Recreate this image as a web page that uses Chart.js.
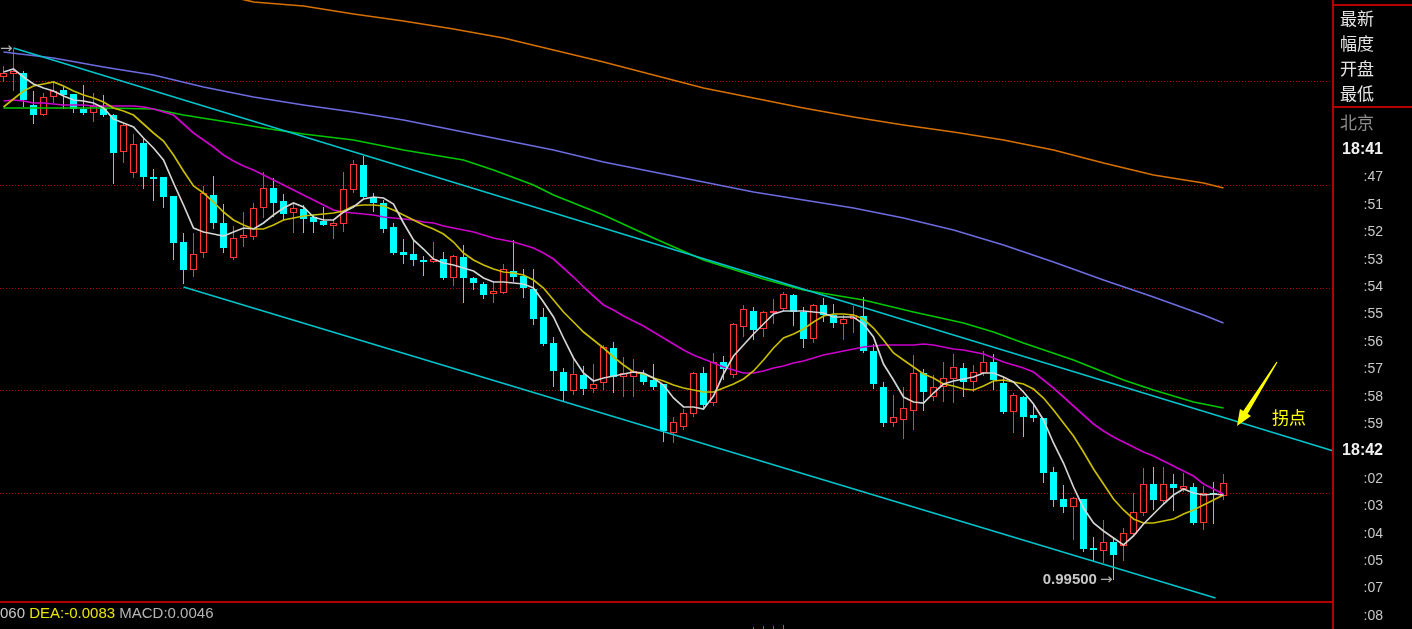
<!DOCTYPE html>
<html><head><meta charset="utf-8">
<script src="https://cdn.jsdelivr.net/npm/chart.js@4.4.0/dist/chart.umd.min.js"></script>
<style>
html,body{margin:0;padding:0;background:#000;}
#wrap{position:relative;width:1412px;height:629px;overflow:hidden;background:#000;font-family:"Liberation Sans",Arial,sans-serif;}
canvas{position:absolute;left:0;}
#main{top:0;}
#macd{top:604px;}
.t{position:absolute;white-space:nowrap;line-height:1;}
.cjk{font-family:"Noto Sans CJK SC",sans-serif;font-size:17px;}
.ln{position:absolute;background:#b40000;}
.num{font-weight:bold;font-size:15px;color:#c8c8c8;}
.arr{font-family:"DejaVu Sans",sans-serif;font-size:15px;color:#b0b0b0;margin-left:3px;}
</style></head>
<body><div id="wrap">
<canvas id="main" width="1334" height="603"></canvas>
<canvas id="macd" width="1334" height="25"></canvas>
<div class="ln" style="left:0;top:601px;width:1334px;height:2px;"></div>
<div class="ln" style="left:1332px;top:0;width:2px;height:629px;"></div>
<div class="ln" style="left:1334px;top:4px;width:78px;height:2px;"></div>
<div class="ln" style="left:1334px;top:106px;width:78px;height:2px;"></div>
<div id="panel"></div>
<div id="lowLab" class="t"><span class="num"></span><span class="arr">→</span></div>
<div id="highLab" class="t"><span class="num"></span><span class="arr">→</span></div>
<div class="t cjk" style="left:1272px;top:408px;color:#ffff00;">拐点</div>
<div class="t" style="left:0;top:605px;font-size:15px;"><span style="color:#c8c8c8">060 </span><span style="color:#e6e600">DEA:-0.0083 </span><span style="color:#b4b4b4">MACD:0.0046</span></div>
</div>
<script>
// ---- candle data (price) ----
const open = [1.00506,1.00512,1.00514,1.00450,1.00430,1.00466,1.00480,1.00472,1.00442,1.00434,
1.00444,1.00430,1.00356,1.00314,1.00374,1.00306,1.00306,1.00268,1.00176,1.00120,
1.00154,1.00270,1.00214,1.00144,1.00184,1.00186,1.00244,1.00284,1.00258,1.00234,
1.00242,1.00226,1.00218,1.00208,1.00212,1.00280,1.00330,1.00266,1.00254,1.00206,
1.00156,1.00152,1.00140,1.00136,1.00142,1.00104,1.00146,1.00104,1.00092,1.00072,
1.00074,1.00118,1.00108,1.00082,1.00026,0.99974,0.99916,0.99878,0.99910,0.99882,
0.99894,0.99964,0.99906,0.99906,0.99912,0.99900,0.99892,0.99794,0.99806,0.99832,
0.99914,0.99854,0.99936,0.99910,1.00006,1.00038,1.00002,1.00034,1.00042,1.00070,
1.00036,0.99982,1.00050,1.00030,1.00012,1.00022,1.00028,0.99958,0.99886,0.99814,
0.99820,0.99838,0.99914,0.99866,0.99886,0.99902,0.99924,0.99896,0.99914,0.99936,
0.99894,0.99836,0.99866,0.99830,0.99824,0.99716,0.99662,0.99646,0.99662,0.99564,
0.99558,0.99576,0.99568,0.99592,0.99634,0.99692,0.99658,0.99692,0.99682,0.99686,
0.99614,0.99674,0.99668];
const close = [1.00514,1.00518,1.00460,1.00430,1.00466,1.00478,1.00470,1.00442,1.00434,1.00448,
1.00430,1.00354,1.00410,1.00372,1.00306,1.00302,1.00266,1.00174,1.00120,1.00152,
1.00274,1.00214,1.00164,1.00184,1.00190,1.00244,1.00284,1.00254,1.00232,1.00244,
1.00222,1.00216,1.00210,1.00214,1.00282,1.00332,1.00266,1.00254,1.00202,1.00154,
1.00150,1.00140,1.00136,1.00142,1.00104,1.00148,1.00104,1.00094,1.00070,1.00078,
1.00122,1.00106,1.00084,1.00022,0.99972,0.99918,0.99878,0.99912,0.99882,0.99892,
0.99966,0.99906,0.99914,0.99918,0.99896,0.99886,0.99798,0.99816,0.99834,0.99914,
0.99850,0.99936,0.99922,1.00012,1.00042,1.00000,1.00036,1.00038,1.00072,1.00036,
0.99982,1.00050,1.00030,1.00014,1.00022,1.00030,0.99958,0.99892,0.99814,0.99826,
0.99844,0.99914,0.99876,0.99886,0.99904,0.99926,0.99896,0.99916,0.99936,0.99900,
0.99836,0.99870,0.99826,0.99824,0.99714,0.99660,0.99646,0.99664,0.99562,0.99560,
0.99576,0.99550,0.99594,0.99636,0.99692,0.99660,0.99692,0.99684,0.99688,0.99614,
0.99674,0.99670,0.99694];
const high = [1.00528,1.00562,1.00518,1.00478,1.00474,1.00496,1.00486,1.00472,1.00490,1.00474,
1.00470,1.00432,1.00414,1.00392,1.00382,1.00322,1.00306,1.00268,1.00194,1.00194,
1.00288,1.00308,1.00252,1.00208,1.00236,1.00254,1.00316,1.00304,1.00272,1.00254,
1.00250,1.00232,1.00246,1.00220,1.00316,1.00340,1.00348,1.00274,1.00260,1.00214,
1.00182,1.00182,1.00148,1.00176,1.00156,1.00150,1.00170,1.00106,1.00096,1.00096,
1.00132,1.00180,1.00122,1.00122,1.00044,0.99986,0.99924,0.99942,0.99928,0.99932,
0.99970,0.99976,0.99946,0.99942,0.99920,0.99932,0.99892,0.99826,0.99842,0.99916,
0.99926,0.99954,0.99948,1.00014,1.00050,1.00046,1.00038,1.00062,1.00076,1.00072,
1.00046,1.00052,1.00064,1.00052,1.00030,1.00048,1.00066,0.99972,0.99896,0.99870,
0.99886,0.99950,0.99922,0.99910,0.99936,0.99952,0.99934,0.99930,0.99958,0.99952,
0.99906,0.99874,0.99868,0.99852,0.99824,0.99726,0.99690,0.99666,0.99662,0.99586,
0.99620,0.99586,0.99604,0.99674,0.99724,0.99726,0.99726,0.99712,0.99714,0.99694,
0.99688,0.99696,0.99712];
const low = [1.00496,1.00478,1.00446,1.00412,1.00428,1.00454,1.00442,1.00434,1.00430,1.00416,
1.00426,1.00292,1.00334,1.00304,1.00282,1.00258,1.00244,1.00140,1.00092,1.00106,
1.00144,1.00202,1.00154,1.00140,1.00166,1.00180,1.00224,1.00226,1.00220,1.00194,
1.00194,1.00194,1.00208,1.00182,1.00196,1.00274,1.00264,1.00236,1.00194,1.00150,
1.00132,1.00128,1.00108,1.00134,1.00100,1.00088,1.00054,1.00080,1.00062,1.00054,
1.00072,1.00096,1.00064,1.00010,0.99968,0.99886,0.99858,0.99870,0.99870,0.99874,
0.99880,0.99874,0.99866,0.99866,0.99890,0.99880,0.99776,0.99774,0.99800,0.99826,
0.99844,0.99848,0.99900,0.99904,0.99986,0.99980,0.99986,1.00012,1.00038,1.00008,
0.99964,0.99974,1.00016,1.00004,0.99980,0.99994,0.99954,0.99882,0.99806,0.99806,
0.99782,0.99800,0.99838,0.99858,0.99856,0.99854,0.99866,0.99876,0.99908,0.99880,
0.99832,0.99794,0.99786,0.99816,0.99694,0.99646,0.99634,0.99580,0.99556,0.99538,
0.99534,0.99500,0.99538,0.99586,0.99628,0.99640,0.99650,0.99638,0.99676,0.99610,
0.99600,0.99612,0.99660];

// ---- moving-average lines ----
const ma5 = [1.00516,1.00522,1.00506,1.00492,1.00484,1.00478,1.00468,1.00460,1.00458,1.00454,
1.00444,1.00422,1.00414,1.00406,1.00384,1.00364,1.00340,1.00294,1.00250,1.00204,
1.00196,1.00192,1.00188,1.00196,1.00204,1.00202,1.00214,1.00230,1.00244,1.00254,
1.00246,1.00226,1.00220,1.00220,1.00236,1.00246,1.00262,1.00266,1.00264,1.00252,
1.00214,1.00180,1.00162,1.00142,1.00134,1.00130,1.00124,1.00118,1.00104,1.00096,
1.00096,1.00094,1.00092,1.00084,1.00056,1.00026,0.99984,0.99944,0.99914,0.99898,
0.99904,0.99908,0.99912,0.99916,0.99914,0.99904,0.99890,0.99864,0.99846,0.99846,
0.99842,0.99868,0.99912,0.99948,0.99970,0.99992,1.00012,1.00032,1.00038,1.00038,
1.00038,1.00036,1.00034,1.00026,1.00026,1.00026,1.00012,0.99986,0.99932,0.99900,
0.99866,0.99856,0.99854,0.99874,0.99892,0.99898,0.99902,0.99906,0.99914,0.99914,
0.99906,0.99896,0.99876,0.99852,0.99820,0.99774,0.99734,0.99686,0.99644,0.99614,
0.99598,0.99584,0.99570,0.99588,0.99612,0.99632,0.99652,0.99670,0.99682,0.99674,
0.99670,0.99672,0.99670];
const ma10 = [1.00446,1.00462,1.00478,1.00488,1.00492,1.00496,1.00488,1.00478,1.00470,1.00464,
1.00456,1.00444,1.00438,1.00430,1.00412,1.00394,1.00378,1.00350,1.00318,1.00288,
1.00274,1.00256,1.00236,1.00220,1.00210,1.00202,1.00202,1.00210,1.00220,1.00224,
1.00228,1.00230,1.00232,1.00234,1.00238,1.00248,1.00250,1.00250,1.00248,1.00240,
1.00230,1.00220,1.00210,1.00202,1.00192,1.00176,1.00154,1.00140,1.00130,1.00122,
1.00116,1.00114,1.00110,1.00100,1.00084,1.00060,1.00036,1.00016,0.99996,0.99980,
0.99964,0.99946,0.99930,0.99916,0.99912,0.99904,0.99898,0.99890,0.99884,0.99880,
0.99876,0.99876,0.99884,0.99892,0.99902,0.99918,0.99940,0.99964,0.99984,0.99992,
1.00002,1.00016,1.00028,1.00032,1.00032,1.00030,1.00022,1.00004,0.99980,0.99954,
0.99940,0.99926,0.99912,0.99904,0.99892,0.99888,0.99882,0.99880,0.99888,0.99898,
0.99900,0.99896,0.99892,0.99882,0.99864,0.99840,0.99814,0.99788,0.99756,0.99722,
0.99692,0.99662,0.99640,0.99622,0.99614,0.99614,0.99618,0.99622,0.99632,0.99640,
0.99650,0.99660,0.99670];
const ma20 = [1.00458,1.00460,1.00458,1.00454,1.00454,1.00452,1.00450,1.00450,1.00450,1.00448,
1.00448,1.00448,1.00448,1.00448,1.00446,1.00442,1.00436,1.00430,1.00412,1.00394,
1.00380,1.00366,1.00350,1.00338,1.00328,1.00320,1.00310,1.00300,1.00290,1.00280,
1.00270,1.00260,1.00250,1.00240,1.00236,1.00234,1.00232,1.00230,1.00226,1.00224,
1.00222,1.00220,1.00216,1.00214,1.00208,1.00204,1.00200,1.00196,1.00190,1.00184,
1.00180,1.00176,1.00170,1.00164,1.00154,1.00142,1.00124,1.00106,1.00086,1.00068,
1.00050,1.00040,1.00028,1.00018,1.00008,0.99996,0.99984,0.99972,0.99960,0.99950,
0.99942,0.99934,0.99926,0.99920,0.99914,0.99914,0.99918,0.99924,0.99928,0.99934,
0.99938,0.99944,0.99950,0.99954,0.99958,0.99962,0.99966,0.99968,0.99970,0.99970,
0.99970,0.99970,0.99972,0.99970,0.99966,0.99962,0.99960,0.99956,0.99952,0.99944,
0.99936,0.99930,0.99924,0.99916,0.99900,0.99884,0.99866,0.99848,0.99830,0.99812,
0.99798,0.99786,0.99776,0.99766,0.99756,0.99748,0.99738,0.99728,0.99718,0.99708,
0.99692,0.99682,0.99672];
const maGreenIdx = [0,10,15,18,23,26,30,35,40,46,49,53,55,60,65,70,76,80,86,91,96,99,102,107,112,115,119,122];
const maGreen = [1.00444,1.00444,1.00442,1.00430,1.00414,1.00404,1.00392,1.00380,1.00360,1.00340,1.00320,1.00290,1.00270,1.00230,1.00184,1.00140,1.00102,1.00080,1.00060,1.00036,1.00014,0.99996,0.99974,0.99940,0.99900,0.99880,0.99856,0.99844];
const maBlueIdx = [0,5,10,15,20,25,30,35,40,45,50,55,60,65,70,75,80,85,90,95,100,105,110,115,120,122];
const maBlue = [1.00556,1.00544,1.00526,1.00510,1.00486,1.00466,1.00450,1.00436,1.00420,1.00400,1.00380,1.00360,1.00336,1.00316,1.00296,1.00276,1.00260,1.00244,1.00224,1.00200,1.00170,1.00136,1.00100,1.00066,1.00030,1.00014];
const maOrangeIdx = [20,25,30,35,40,45,50,55,60,65,70,75,80,85,90,95,100,105,110,115,120,122];
const maOrange = [1.00680,1.00656,1.00648,1.00632,1.00618,1.00602,1.00584,1.00560,1.00536,1.00510,1.00484,1.00464,1.00444,1.00426,1.00410,1.00396,1.00380,1.00360,1.00334,1.00310,1.00294,1.00284];

// ---- drawn trend channel & annotation (index, price) ----
const channelUpperIdx = [1, 133];
const channelUpper = [1.00564, 0.99758];
const channelLowerIdx = [18, 121.2];
const channelLower = [1.00086, 0.99464];
const arrowTail = [127.35, 0.99936];
const arrowTip = [123.35, 0.99808];

// ---- price grid & axis range ----
const gridLevels = [1.00496, 1.00290, 1.00084, 0.99878, 0.99674];
const Y_MIN = 0.99454, Y_MAX = 1.00660;
const X_MIN = -0.35, X_MAX = 133.05;

// ---- MACD histogram bits visible at bottom ----
const macdIdx = [75, 76, 77, 78];
const macdVals = [0.00010, 0.00015, 0.00015, 0.00020];

// ---- side panel text ----
const panelLabels = ['最新', '幅度', '开盘', '最低'];
const panelCity = '北京';
const timeLabels = ['18:41', ':47', ':51', ':52', ':53', ':54', ':55', ':56', ':57', ':58', ':59',
  '18:42', ':02', ':03', ':04', ':05', ':07', ':08'];

const RED = '#ff3434', CYAN = '#00ffff';
const idx = open.map((_, i) => i);
const up = idx.map(i => close[i] >= open[i]);
const pts = (xs, ys) => xs.map((x, k) => ({x: x, y: ys[k]}));

const lineDs = (data, color, w, order) => ({
  type: 'line', data: data, borderColor: color, borderWidth: w, pointRadius: 0,
  tension: 0, spanGaps: true, order: order, fill: false
});

const arrowPlugin = {
  id: 'arrowNote',
  afterDatasetsDraw(chart) {
    const {ctx, scales: {x, y}} = chart;
    const tx = x.getPixelForValue(arrowTail[0]), ty = y.getPixelForValue(arrowTail[1]);
    const hx = x.getPixelForValue(arrowTip[0]), hy = y.getPixelForValue(arrowTip[1]);
    const dx = hx - tx, dy = hy - ty, len = Math.hypot(dx, dy);
    const ux = dx / len, uy = dy / len, nx = -uy, ny = ux;
    const headLen = 16, headW = 6.5, shaftW = 2.6;
    const bx = hx - ux * headLen, by = hy - uy * headLen;
    ctx.save();
    ctx.fillStyle = '#ffff00';
    ctx.beginPath();
    ctx.moveTo(tx + nx * 0.6, ty + ny * 0.6);
    ctx.lineTo(bx + nx * shaftW, by + ny * shaftW);
    ctx.lineTo(bx + nx * headW, by + ny * headW);
    ctx.lineTo(hx, hy);
    ctx.lineTo(bx - nx * headW, by - ny * headW);
    ctx.lineTo(bx - nx * shaftW, by - ny * shaftW);
    ctx.lineTo(tx - nx * 0.6, ty - ny * 0.6);
    ctx.closePath();
    ctx.fill();
    ctx.restore();
  }
};

const chart = new Chart(document.getElementById('main'), {
  type: 'bar',
  data: {
    datasets: [
      lineDs(pts(channelUpperIdx, channelUpper), '#00c4cc', 1.7, 0),
      lineDs(pts(channelLowerIdx, channelLower), '#00c4cc', 1.7, 0),
      lineDs(pts(idx, ma5), '#d4d4d4', 1.7, 1),
      lineDs(pts(idx, ma10), '#c8bc00', 1.7, 2),
      lineDs(pts(idx, ma20), '#cc00cc', 1.7, 3),
      lineDs(pts(maGreenIdx, maGreen), '#00c800', 1.7, 4),
      lineDs(pts(maBlueIdx, maBlue), '#6c6ce0', 1.7, 5),
      lineDs(pts(maOrangeIdx, maOrange), '#d87000', 1.7, 6),
      {
        type: 'bar', data: idx.map(i => ({x: i, y: [open[i], close[i]]})), order: 10,
        backgroundColor: up.map(u => u ? '#000000' : CYAN),
        borderColor: up.map(u => u ? RED : CYAN),
        borderWidth: 1, borderSkipped: false, barThickness: 7, grouped: false,
        minBarLength: 1, inflateAmount: 0
      },
      {
        type: 'bar', data: idx.map(i => ({x: i, y: [low[i], high[i]]})), order: 11,
        backgroundColor: up.map(u => u ? RED : CYAN),
        borderWidth: 0, barThickness: 1, grouped: false, inflateAmount: 0
      }
    ]
  },
  options: {
    responsive: false, animation: false, devicePixelRatio: 1,
    layout: {padding: 0},
    plugins: {legend: {display: false}, tooltip: {enabled: false}},
    scales: {
      x: {type: 'linear', min: X_MIN, max: X_MAX, display: false, offset: false},
      y: {
        type: 'linear', min: Y_MIN, max: Y_MAX,
        afterFit: s => { s.width = 0; },
        afterBuildTicks: s => { s.ticks = gridLevels.map(v => ({value: v})); },
        ticks: {display: false},
        grid: {color: '#b00000', lineWidth: 1, drawTicks: false},
        border: {display: false, dash: [1, 2]}
      }
    }
  },
  plugins: [arrowPlugin]
});

new Chart(document.getElementById('macd'), {
  type: 'bar',
  data: {datasets: [{data: pts(macdIdx, macdVals), backgroundColor: RED, barThickness: 1, inflateAmount: 0}]},
  options: {
    responsive: false, animation: false, devicePixelRatio: 1,
    plugins: {legend: {display: false}, tooltip: {enabled: false}},
    scales: {
      x: {type: 'linear', min: X_MIN, max: X_MAX, display: false, offset: false},
      y: {min: 0, max: 0.00125, display: false}
    }
  }
});

// side panel
const panel = document.getElementById('panel');
panelLabels.forEach((s, k) => {
  const d = document.createElement('div');
  d.className = 't cjk'; d.textContent = s;
  d.style.left = '1340px'; d.style.top = (9 + 25 * k) + 'px'; d.style.color = '#e4e4e4';
  panel.appendChild(d);
});
const city = document.createElement('div');
city.className = 't cjk'; city.textContent = panelCity;
city.style.left = '1340px'; city.style.top = '113px'; city.style.color = '#8c8c8c';
panel.appendChild(city);
timeLabels.forEach((s, k) => {
  const d = document.createElement('div');
  const big = s.indexOf('18:') === 0;
  d.className = 't'; d.textContent = s;
  d.style.right = '29px';
  d.style.top = (150 + 27.4 * k - (big ? 9 : 8)) + 'px';
  d.style.fontSize = big ? '16px' : '14px';
  d.style.fontWeight = big ? 'bold' : 'normal';
  d.style.color = big ? '#f0f0f0' : '#c8c8c8';
  panel.appendChild(d);
});

// extreme price labels, placed through the chart scales
const xs = chart.scales.x, ys = chart.scales.y;
function placeLabel(id, i, price) {
  const el = document.getElementById(id);
  el.querySelector('.num').textContent = price.toFixed(5);
  el.style.right = (1412 - (xs.getPixelForValue(i) - 1)) + 'px';
  el.style.top = (ys.getPixelForValue(price) - 9) + 'px';
}
const minLow = Math.min(...low), maxHigh = Math.max(...high);
placeLabel('lowLab', low.indexOf(minLow), minLow);
placeLabel('highLab', high.indexOf(maxHigh), maxHigh);
</script>
</body></html>
